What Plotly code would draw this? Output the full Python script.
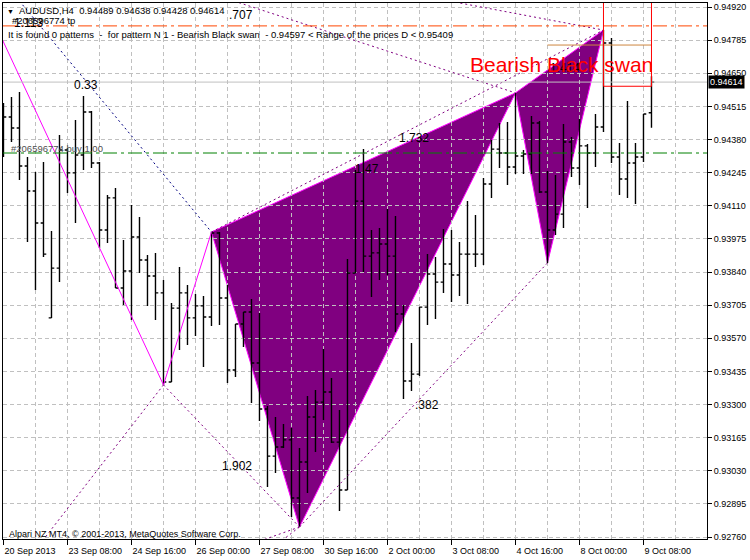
import plotly.graph_objects as go

# ---------------- data ----------------
bars = list(range(82))
opens = [0.94508, 0.94472, 0.94427, 0.94272, 0.94170, 0.94040, 0.93653, 0.93856, 0.94337, 0.94244,
         0.94317, 0.94492, 0.94284, 0.94011, 0.94142, 0.93775, 0.93844, 0.93983, 0.93889, 0.93824,
         0.93755, 0.93392, 0.93693, 0.93755, 0.93653, 0.93702, 0.93657, 0.93999, 0.93734, 0.93441,
         0.93628, 0.93677, 0.93469, 0.93282, 0.93090, 0.93127, 0.93156, 0.92919, 0.93066, 0.93249,
         0.93310, 0.93351, 0.93147, 0.92952, 0.93836, 0.94129, 0.93905, 0.93918, 0.93954, 0.93905,
         0.93669, 0.93396, 0.93424, 0.93697, 0.93832, 0.93799, 0.93873, 0.93828, 0.93913, 0.93913,
         0.93913, 0.94199, 0.94341, 0.94325, 0.94268, 0.94313, 0.94321, 0.94447, 0.94166, 0.94011,
         0.94076, 0.94370, 0.94264, 0.94354, 0.94325, 0.94431, 0.94773, 0.94309, 0.94219, 0.94284,
         0.94309, 0.94489]
highs = [0.94529, 0.94553, 0.94574, 0.94309, 0.94248, 0.94288, 0.94007, 0.94398, 0.94345, 0.94460,
         0.94557, 0.94496, 0.94288, 0.94154, 0.94182, 0.93971, 0.94113, 0.94064, 0.93909, 0.93918,
         0.93808, 0.93714, 0.93860, 0.93787, 0.93750, 0.93742, 0.94003, 0.94003, 0.93787, 0.93628,
         0.93677, 0.93730, 0.93673, 0.93294, 0.93249, 0.93221, 0.93204, 0.93123, 0.93335, 0.93359,
         0.93526, 0.93408, 0.93278, 0.93893, 0.94256, 0.94341, 0.94011, 0.94019, 0.94097, 0.94068,
         0.93706, 0.93551, 0.93697, 0.93913, 0.93901, 0.94015, 0.94011, 0.93962, 0.94129, 0.94072,
         0.94223, 0.94378, 0.94447, 0.94451, 0.94570, 0.94337, 0.94476, 0.94455, 0.94252, 0.94235,
         0.94443, 0.94390, 0.94464, 0.94362, 0.94484, 0.94826, 0.94794, 0.94366, 0.94537, 0.94366,
         0.94484, 0.94638]
lows = [0.94309, 0.94370, 0.94215, 0.93962, 0.93767, 0.93901, 0.93653, 0.93799, 0.94162, 0.94040,
        0.94256, 0.94264, 0.93938, 0.93958, 0.93775, 0.93706, 0.93645, 0.93836, 0.93702, 0.93645,
        0.93380, 0.93392, 0.93522, 0.93543, 0.93579, 0.93453, 0.93620, 0.93624, 0.93388, 0.93412,
        0.93534, 0.93306, 0.93233, 0.92964, 0.93021, 0.93123, 0.92842, 0.92801, 0.92940, 0.93107,
        0.93237, 0.93143, 0.92866, 0.92952, 0.93836, 0.93840, 0.93738, 0.93808, 0.93828, 0.93596,
        0.93323, 0.93355, 0.93416, 0.93624, 0.93649, 0.93755, 0.93718, 0.93742, 0.93710, 0.93860,
        0.93869, 0.94142, 0.94264, 0.94195, 0.94239, 0.94239, 0.94239, 0.94162, 0.93877, 0.93991,
        0.94019, 0.94227, 0.94195, 0.94101, 0.94268, 0.94411, 0.94284, 0.94154, 0.94142, 0.94117,
        0.94288, 0.94428]
closes = [0.94472, 0.94427, 0.94272, 0.94170, 0.94040, 0.93913, 0.93856, 0.94337, 0.94244, 0.94317,
          0.94492, 0.94284, 0.94011, 0.94142, 0.93775, 0.93844, 0.93983, 0.93889, 0.93824, 0.93755,
          0.93392, 0.93693, 0.93755, 0.93653, 0.93702, 0.93657, 0.93999, 0.93734, 0.93441, 0.93628,
          0.93677, 0.93469, 0.93282, 0.93090, 0.93127, 0.93156, 0.92919, 0.93066, 0.93249, 0.93310,
          0.93351, 0.93147, 0.92952, 0.93836, 0.94129, 0.93905, 0.93918, 0.93954, 0.93905, 0.93669,
          0.93396, 0.93424, 0.93697, 0.93832, 0.93799, 0.93873, 0.93828, 0.93913, 0.93913, 0.93913,
          0.94199, 0.94341, 0.94325, 0.94268, 0.94313, 0.94321, 0.94447, 0.94166, 0.94011, 0.94076,
          0.94370, 0.94264, 0.94354, 0.94325, 0.94431, 0.94773, 0.94309, 0.94219, 0.94284, 0.94309,
          0.94484, 0.94614]

tick_bars = [0, 8, 16, 24, 32, 40, 48, 56, 64, 72, 80]
tick_labels = ["20 Sep 2013", "23 Sep 08:00", "24 Sep 16:00", "26 Sep 00:00", "27 Sep 08:00",
               "30 Sep 16:00", "2 Oct 00:00", "3 Oct 08:00", "4 Oct 16:00", "8 Oct 00:00", "9 Oct 08:00"]
price_ticks = [0.92760, 0.92895, 0.93030, 0.93165, 0.93300, 0.93435, 0.93570, 0.93705, 0.93840,
               0.93975, 0.94110, 0.94245, 0.94380, 0.94515, 0.94650, 0.94785, 0.94920]
price_labels = ["%.5f" % p for p in price_ticks]

# pattern points (bar index, price)
X = (-8, 0.95336)
A = (20, lows[20])
B = (26, highs[26])
C = (37, lows[37])
D1 = (64, highs[64])
E = (68, lows[68])
D = (75, highs[75])
A_ext = (0, 0.92540)
C_ext1 = (30, 0.92720)
C_ext2 = (33, 0.92700)

tp_price = 0.94843
buy_price = 0.94325
bid_price = closes[-1]
level_price = 0.94765
d_range_low = 0.94597
d_range_high = 0.95409

X_RANGE = [-0.06, 87.94]
Y_RANGE = [0.927521, 0.949363]
GRID_COLOR = "#C0C0C0"
GRID_DASH = "4px,3px"
FONT = "Liberation Sans, Arial, sans-serif"

fig = go.Figure()

# solid magenta legs
fig.add_trace(go.Scatter(x=[X[0], A[0], B[0]], y=[X[1], A[1], B[1]], mode="lines",
                         line=dict(color="#FF00FF", width=1), hoverinfo="skip"))

# bars
fig.add_trace(go.Ohlc(x=bars, open=opens, high=highs, low=lows, close=closes,
                      increasing=dict(line=dict(color="black", width=1.4)),
                      decreasing=dict(line=dict(color="black", width=1.4)),
                      tickwidth=0.35, hoverinfo="skip"))

# dotted ratio lines
dot = "2px,3px"
for p, q, col in [(A, C, "#800080"), (C, E, "#800080"), (B, D, "#800080"),
                  (X, B, "#000080"), (X, D1, "#800080"), (X, D, "#800080"),
                  (A, A_ext, "#800080"), (C, C_ext1, "#800080"), (C, C_ext2, "#800080")]:
    fig.add_trace(go.Scatter(x=[p[0], q[0]], y=[p[1], q[1]], mode="lines",
                             line=dict(color=col, width=1, dash=dot), hoverinfo="skip"))

def tri_path(pts):
    return "M " + " L ".join("%s,%s" % (p[0], p[1]) for p in pts) + " Z"

shapes = [
    # filled pattern triangles, beneath the grid (as in MT4)
    dict(type="path", xref="x", yref="y", path=tri_path((B, C, D1)), layer="below",
         fillcolor="#800080", line=dict(color="#FF00FF", width=1)),
    dict(type="path", xref="x", yref="y", path=tri_path((D1, E, D)), layer="below",
         fillcolor="#800080", line=dict(color="#FF00FF", width=1)),
    dict(type="line", xref="paper", x0=0, x1=1, yref="y", y0=tp_price, y1=tp_price,
         line=dict(color="#FF4500", width=1, dash="14px,4px,3px,4px")),
    dict(type="line", xref="paper", x0=0, x1=1, yref="y", y0=buy_price, y1=buy_price,
         line=dict(color="#008000", width=1, dash="14px,4px,3px,4px")),
    dict(type="line", xref="paper", x0=0, x1=1, yref="y", y0=bid_price, y1=bid_price,
         line=dict(color="#C0C0C0", width=1)),
    dict(type="line", xref="x", x0=E[0], x1=81, yref="y", y0=level_price, y1=level_price,
         line=dict(color="#CD853F", width=1)),
    dict(type="rect", xref="x", x0=D[0], x1=81, yref="y", y0=d_range_low, y1=d_range_high,
         line=dict(color="#FF0000", width=1)),
]

def px2paper(px, py):
    return (px - 3) / 704.0, 1 - (py - 3) / 536.0

ann = []
def data_label(text, x, y, size=12, color="black"):
    ann.append(dict(text=text, x=x, y=y, xref="x", yref="y", xanchor="left", yanchor="middle",
                    showarrow=False, font=dict(family=FONT, size=size, color=color)))

data_label("0.33", 8.56, 0.94602)
data_label(".707", 27.94, 0.94887)
data_label("1.113", 1.06, 0.94855)
data_label("1.732", 49.19, 0.94386)
data_label("1.47", 43.69, 0.94260)
data_label("1.902", 27.06, 0.93050)
data_label(".382", 51.19, 0.93298)
data_label("1.414", 68.06, 0.94671)
data_label("#206596774 tp", 0.81, 0.94863, size=9.5)
data_label("#206596774 buy 1.00", 0.69, 0.94345, size=9.5, color="#505050")
data_label("Bearish Black swan", 58.06, 0.94684, size=21, color="#FF0000")

def paper_label(text, px, py, size=9.5, color="black", **kw):
    x, y = px2paper(px, py)
    d = dict(text=text, x=x, y=y, xref="paper", yref="paper", xanchor="left", yanchor="middle",
             showarrow=False, font=dict(family=FONT, size=size, color=color))
    d.update(kw)
    ann.append(d)

paper_label("\u25BC", 5, 11, size=7)
paper_label("AUDUSD,H4\u00a0\u00a00.94489 0.94638 0.94428 0.94614", 17, 10)
paper_label("It is found 0 patterns\u00a0\u00a0-\u00a0\u00a0for pattern N 1 - Bearish Black swan\u00a0\u00a0- 0.94597 &lt; Range of the prices D &lt; 0.95409", 6, 35, size=9.5)
paper_label("Alpari NZ MT4, \u00a9 2001-2013, MetaQuotes Software Corp.", 7, 534, size=9)

# current price box on the axis
ann.append(dict(text="0.94614", x=1.0, y=bid_price, xref="paper", yref="y", xanchor="left",
                yanchor="middle", xshift=1, showarrow=False, bgcolor="black", borderpad=1,
                font=dict(family=FONT, size=9, color="white")))

grid = dict(showgrid=True, gridcolor=GRID_COLOR, griddash=GRID_DASH, gridwidth=1)
fig.update_layout(
    width=750, height=560, margin=dict(l=3, r=43, t=3, b=21),
    paper_bgcolor="white", plot_bgcolor="white", showlegend=False,
    shapes=shapes, annotations=ann,
    xaxis=dict(range=X_RANGE, tickmode="array", tickvals=tick_bars, ticktext=tick_labels,
               ticks="outside", ticklen=5, tickcolor="black", showline=True, linecolor="black",
               mirror=True, zeroline=False, ticklabelposition="outside right",
               ticklabelstandoff=3,
               rangeslider=dict(visible=False),
               minor=dict(tickmode="linear", tick0=0, dtick=4, ticks="", **grid),
               tickfont=dict(family=FONT, size=9, color="black"), **grid),
    yaxis=dict(side="right", range=Y_RANGE, tickmode="array", tickvals=price_ticks,
               ticktext=price_labels, ticks="outside", ticklen=4, tickcolor="black",
               showline=True, linecolor="black", mirror=True, zeroline=False,
               tickfont=dict(family=FONT, size=9, color="black"), **grid),
)

fig.write_html("out.html", config={"displayModeBar": False},
               post_script="document.body.style.margin='0';document.body.style.overflow='hidden';")
